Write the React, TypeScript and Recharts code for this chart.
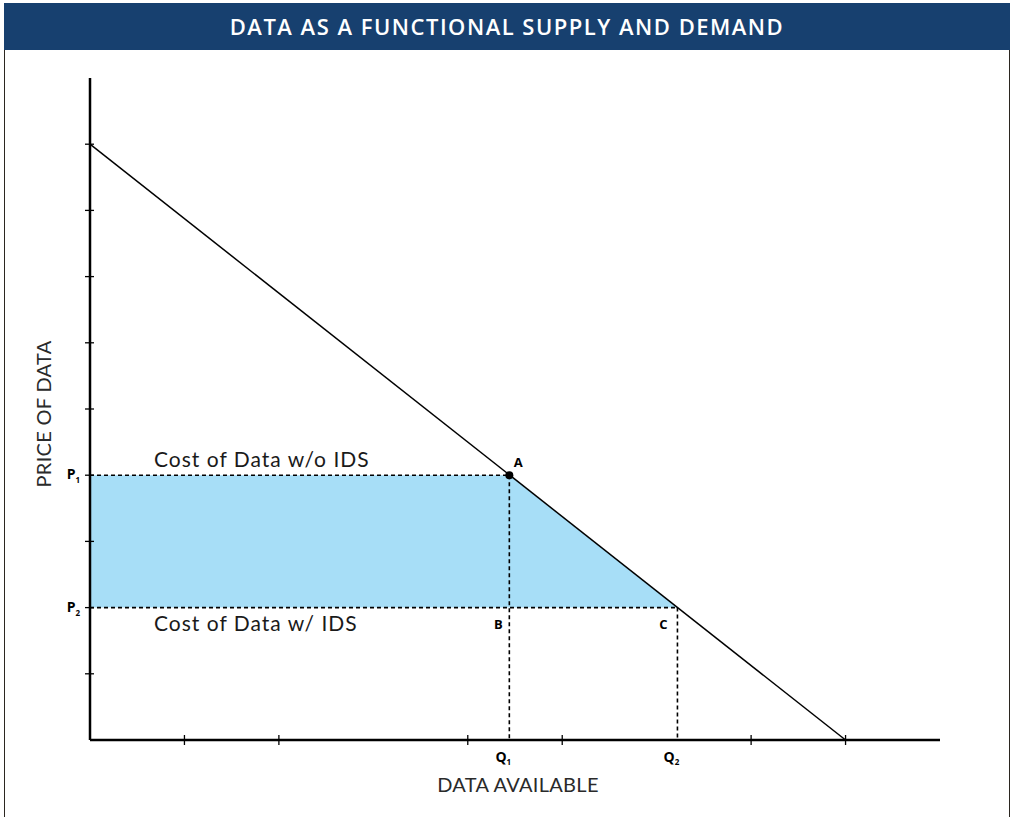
import { Area, ComposedChart, Line, ReferenceDot, ReferenceLine, XAxis, YAxis } from 'recharts';

// demand curve end points (quantity, price)
const demandQuantity = [0, 8];
const demandPrice = [9, 0];

// the two price levels and the quantities where they meet demand
const priceSubs = ['1', '2'];
const priceValues = [4, 2];
const quantitySubs = ['1', '2'];
const quantityValues = [4.44, 6.22];

// tick marks
const xTickValues = [1, 2, 4, 5, 7, 8];
const yTickValues = [1, 2, 3, 4, 5, 6, 7, 8, 9];

// annotations
const pointNames = ['A', 'B', 'C'];
const costLabels = ['Cost of Data w/o IDS', 'Cost of Data w/ IDS'];

const demand = demandQuantity.map((q, i) => ({ q, p: demandPrice[i] }));

const surplus = [
  { q: 0, band: [priceValues[1], priceValues[0]] },
  { q: quantityValues[0], band: [priceValues[1], priceValues[0]] },
  { q: quantityValues[1], band: [priceValues[1], priceValues[1]] },
];

const labelFont = '"Open Sans", "DejaVu Sans", sans-serif';
const lightFont = 'Lato, "Open Sans", sans-serif';
const dash = '4 3';

function QuantityTick({ x, y, payload }: any) {
  const i = quantityValues.indexOf(payload.value);
  if (i < 0) {
    return <line x1={x} x2={x} y1={y - 5} y2={y + 5} stroke="#000" strokeWidth={1.3} />;
  }
  return (
    <text x={x - 6} y={y + 22} textAnchor="middle" fontSize={14} fontWeight={700} fontFamily={labelFont} fill="#000">
      Q
      <tspan fontSize={8} dy={3}>
        {quantitySubs[i]}
      </tspan>
    </text>
  );
}

function PriceTick({ x, y, payload }: any) {
  const i = priceValues.indexOf(payload.value);
  return (
    <g>
      <line x1={x - 5} x2={x + 4} y1={y} y2={y} stroke="#000" strokeWidth={1.3} />
      {i >= 0 && (
        <text x={x - 10} y={y + 4} textAnchor="end" fontSize={14} fontWeight={700} fontFamily={labelFont} fill="#000">
          P
          <tspan fontSize={8} dy={4}>
            {priceSubs[i]}
          </tspan>
        </text>
      )}
    </g>
  );
}

function Caption(text: string, dx: number, dy: number) {
  return ({ cx, cy }: any) => (
    <text x={cx + dx} y={cy + dy} fontSize={21} letterSpacing={1} fontFamily={lightFont} fill="#1a1a1a">
      {text}
    </text>
  );
}

function PointName(text: string, dx: number, dy: number) {
  return ({ cx, cy }: any) => (
    <text x={cx + dx} y={cy + dy} textAnchor="middle" fontSize={13} fontWeight={700} fontFamily={labelFont} fill="#000">
      {text}
    </text>
  );
}

const axisTitleStyle = { fontSize: 20, letterSpacing: 0.3, fontFamily: lightFont, fill: '#2a2a2a' };

export default function App() {
  return (
    <div style={{ position: 'absolute', left: 0, top: 0, width: 1012, height: 817, background: '#fff' }}>
      <div
        style={{
          position: 'absolute',
          left: 4,
          top: 3,
          width: 1006,
          height: 47,
          background: '#17406f',
          color: '#fff',
          fontFamily: labelFont,
          fontSize: 22,
          fontWeight: 600,
          letterSpacing: 1.5,
          lineHeight: '47px',
          textAlign: 'center',
        }}
      >
        DATA AS A FUNCTIONAL SUPPLY AND DEMAND
      </div>
      <div style={{ position: 'absolute', left: 4, top: 50, width: 1, height: 767, background: '#2b2620' }} />
      <div style={{ position: 'absolute', left: 1009, top: 50, width: 1, height: 767, background: '#2b2620' }} />

      <div style={{ position: 'absolute', left: 0, top: 0 }}>
        <ComposedChart width={1012} height={817} margin={{ top: 78, right: 72, bottom: 47, left: 30 }}>
          <XAxis
            type="number"
            dataKey="q"
            domain={[0, 9]}
            ticks={[...xTickValues, ...quantityValues]}
            interval={0}
            height={30}
            tickSize={0}
            tickMargin={0}
            tickLine={false}
            axisLine={{ stroke: '#000', strokeWidth: 2.5 }}
            tick={<QuantityTick />}
            label={{
              value: 'DATA AVAILABLE',
              position: 'bottom',
              offset: 8,
              dx: 3,
              style: axisTitleStyle,
            }}
          />
          <YAxis
            type="number"
            domain={[0, 10]}
            ticks={yTickValues}
            interval={0}
            width={60}
            tickSize={0}
            tickMargin={0}
            tickLine={false}
            axisLine={{ stroke: '#000', strokeWidth: 2.5 }}
            tick={<PriceTick />}
            label={{
              value: 'PRICE OF DATA',
              angle: -90,
              position: 'insideLeft',
              offset: 14,
              dy: 5,
              style: { ...axisTitleStyle, textAnchor: 'middle' },
            }}
          />

          <Area
            data={surplus}
            dataKey="band"
            type="linear"
            stroke="none"
            fill="#a7def7"
            fillOpacity={1}
            isAnimationActive={false}
          />

          <ReferenceLine
            segment={[{ x: 0, y: priceValues[0] }, { x: quantityValues[0], y: priceValues[0] }]}
            stroke="#000"
            strokeWidth={1.6}
            strokeDasharray={dash}
          />
          <ReferenceLine
            segment={[{ x: 0, y: priceValues[1] }, { x: quantityValues[1], y: priceValues[1] }]}
            stroke="#000"
            strokeWidth={1.6}
            strokeDasharray={dash}
          />
          <ReferenceLine
            segment={[{ x: quantityValues[0], y: priceValues[0] }, { x: quantityValues[0], y: 0 }]}
            stroke="#000"
            strokeWidth={1.6}
            strokeDasharray={dash}
          />
          <ReferenceLine
            segment={[{ x: quantityValues[1], y: priceValues[1] }, { x: quantityValues[1], y: 0 }]}
            stroke="#000"
            strokeWidth={1.6}
            strokeDasharray={dash}
          />

          <Line
            data={demand}
            dataKey="p"
            type="linear"
            stroke="#000"
            strokeWidth={1.5}
            dot={false}
            isAnimationActive={false}
          />

          <ReferenceDot x={quantityValues[0]} y={priceValues[0]} r={4} fill="#000" stroke="none" />

          <ReferenceDot x={quantityValues[0]} y={priceValues[0]} r={0} shape={PointName(pointNames[0], 9, -8)} />
          <ReferenceDot x={quantityValues[0]} y={priceValues[1]} r={0} shape={PointName(pointNames[1], -11, 21)} />
          <ReferenceDot x={quantityValues[1]} y={priceValues[1]} r={0} shape={PointName(pointNames[2], -14, 21)} />

          <ReferenceDot x={0} y={priceValues[0]} r={0} shape={Caption(costLabels[0], 64, -8)} />
          <ReferenceDot x={0} y={priceValues[1]} r={0} shape={Caption(costLabels[1], 64, 23)} />
        </ComposedChart>
      </div>
    </div>
  );
}
